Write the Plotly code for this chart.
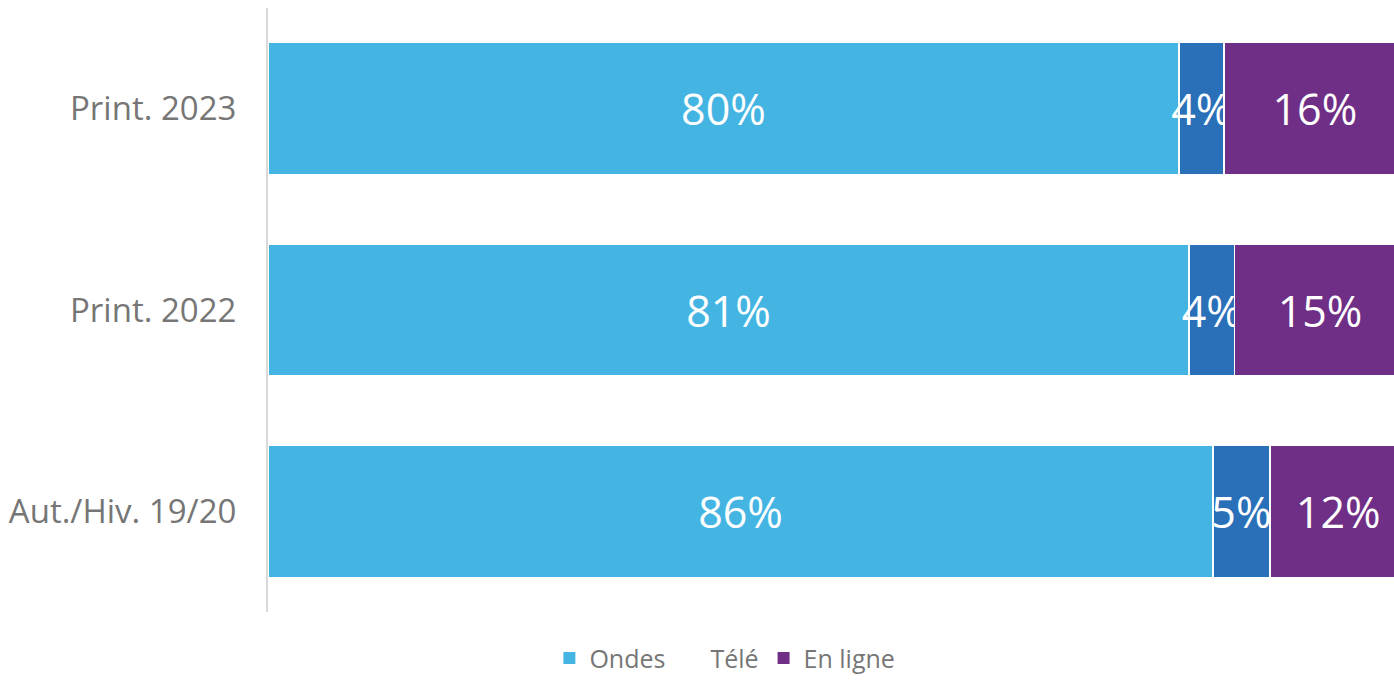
import plotly.graph_objects as go

categories = ["Aut./Hiv. 19/20", "Print. 2022", "Print. 2023"]
series_names = ["Ondes", "Télé", "En ligne"]
ondes = [83.0, 80.9, 80.0]
tele = [5.0, 4.0, 3.95]
en_ligne = [12.0, 15.0, 16.0]
ondes_labels = ["86%", "81%", "80%"]
tele_labels = ["5%", "4%", "4%"]
en_ligne_labels = ["12%", "15%", "16%"]
colors = ["#44B5E3", "#2A70B8", "#6F2F86"]
legend_colors = ["#44B5E3", "#FFFFFF", "#6F2F86"]

FONT = "Open Sans"
fig = go.Figure()
for name, vals, labels, col in zip(series_names, [ondes, tele, en_ligne],
                                   [ondes_labels, tele_labels, en_ligne_labels], colors):
    fig.add_trace(go.Bar(
        y=categories, x=vals, orientation="h", name=name,
        marker=dict(color=col, line=dict(color="white", width=1.5)),
        text=labels, textposition="inside", insidetextanchor="middle", textangle=0,
        textfont=dict(color="white", size=43, family=FONT),
        showlegend=False, hoverinfo="skip",
    ))

# legend entries
for name, col in zip(series_names, legend_colors):
    fig.add_trace(go.Scatter(
        x=[None], y=[None], mode="markers", name=name,
        marker=dict(symbol="square", size=12, color=col, line=dict(width=0)),
    ))

fig.update_layout(
    width=1394, height=682,
    margin=dict(l=268, r=0, t=8, b=70),
    barmode="stack", bargap=0.345,
    plot_bgcolor="white", paper_bgcolor="white",
    uniformtext=dict(minsize=43, mode="show"),
    font=dict(family=FONT, color="#767676"),
    legend=dict(orientation="h", xref="container", x=0.52, xanchor="center",
                yref="container", y=0.035, yanchor="middle",
                font=dict(size=25, color="#767676"),
                itemsizing="constant", traceorder="normal"),
    xaxis=dict(range=[0, 98.9], showgrid=False, zeroline=False, showticklabels=False,
               fixedrange=True),
    yaxis=dict(showgrid=False, showline=True, linecolor="#d9d9d9", linewidth=2,
               tickfont=dict(size=33, color="#767676", family=FONT),
               ticks="", ticklabelstandoff=23, categoryorder="array",
               categoryarray=categories),
)
fig.write_html("out.html")
